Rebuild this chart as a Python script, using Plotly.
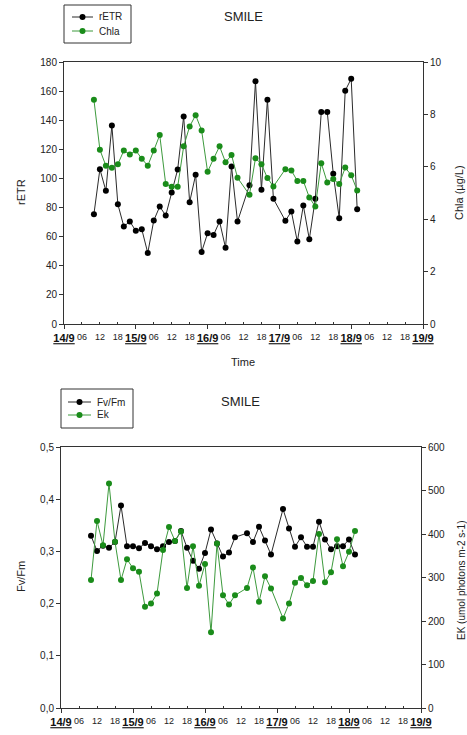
import plotly.graph_objects as go

# ---------------- data ----------------
# sampling time, hours after 14/9 00:00
hours = [10, 12, 14, 16, 18, 20, 22, 24, 26, 28, 30, 32, 34, 36, 38, 40, 42, 44, 46, 48,
         50, 52, 54, 56, 58, 62, 64, 66, 68, 70, 74, 76, 78, 80, 82, 84, 86, 88, 90, 92,
         94, 96, 98]

retr = [75.4, 106.4, 91.5, 136.4, 82.3, 67.0, 70.4, 64.0, 65.1, 48.8, 71.1, 80.7, 74.5,
        90.3, 106.2, 142.6, 83.7, 102.5, 49.5, 62.4, 61.2, 70.4, 52.3, 108.2, 70.4, 95.4,
        166.7, 92.2, 154.1, 86.0, 70.9, 77.3, 56.6, 81.4, 58.2, 86.0, 145.6, 145.6, 103.2,
        72.7, 160.3, 168.5, 78.9]

chla = [8.56, 6.65, 6.04, 5.96, 6.10, 6.62, 6.47, 6.62, 6.31, 6.04, 6.62, 7.21, 5.34,
        5.24, 5.24, 6.78, 7.54, 7.97, 7.39, 5.81, 6.31, 6.78, 6.17, 6.45, 5.58, 4.93,
        6.33, 6.10, 5.57, 5.25, 5.91, 5.86, 5.46, 5.46, 4.83, 4.48, 6.14, 5.40, 5.53,
        5.34, 5.97, 5.68, 5.10]

fvfm = [0.330, 0.301, 0.311, 0.307, 0.318, 0.388, 0.310, 0.310, 0.306, 0.316, 0.310,
        0.304, 0.310, 0.318, 0.320, 0.339, 0.307, 0.282, 0.267, 0.297, 0.342, 0.315,
        0.290, 0.298, 0.327, 0.335, 0.318, 0.347, 0.321, 0.294, 0.381, 0.344, 0.309,
        0.327, 0.309, 0.309, 0.357, 0.323, 0.304, 0.310, 0.310, 0.323, 0.294]

ek = [294, 430, 374, 516, 382, 294, 342, 321, 313, 233, 240, 263, 363, 416, 384, 406,
      276, 372, 281, 331, 174, 378, 259, 238, 259, 276, 323, 244, 303, 275, 206, 240,
      288, 299, 282, 292, 400, 289, 312, 388, 326, 359, 407]

day_ticks = [0, 24, 48, 72, 96, 120]
day_labels = ["14/9", "15/9", "16/9", "17/9", "18/9", "19/9"]
hour_ticks = [d + h for d in [0, 24, 48, 72, 96] for h in (6, 12, 18)]
hour_labels = ["06", "12", "18"] * 5

fv_ticks = [0, 0.1, 0.2, 0.3, 0.4, 0.5]
fv_labels = ["0,0", "0,1", "0,2", "0,3", "0,4", "0,5"]

top_series = ["rETR", "Chla"]
bottom_series = ["Fv/Fm", "Ek"]

# ---------------- styling ----------------
W, H = 467, 735
FONT = "Arial, Liberation Sans, sans-serif"
AX = "#333333"
GREEN = "#1a8c1a"
GREEN_LINE = "#3d9a3d"
BLACK_LINE = "#2b2b2b"


def fx(x):
    return x / W


def fy(y):
    return 1 - y / H


fig = go.Figure()

fig.add_trace(go.Scatter(x=hours, y=retr, name=top_series[0], mode="lines+markers",
                         line=dict(color=BLACK_LINE, width=1),
                         marker=dict(color="black", size=6),
                         xaxis="x", yaxis="y"))
fig.add_trace(go.Scatter(x=hours, y=chla, name=top_series[1], mode="lines+markers",
                         line=dict(color=GREEN_LINE, width=1),
                         marker=dict(color=GREEN, size=6),
                         xaxis="x", yaxis="y2"))
fig.add_trace(go.Scatter(x=hours, y=fvfm, name=bottom_series[0], mode="lines+markers",
                         line=dict(color=BLACK_LINE, width=1),
                         marker=dict(color="black", size=6),
                         xaxis="x3", yaxis="y3"))
fig.add_trace(go.Scatter(x=hours, y=ek, name=bottom_series[1], mode="lines+markers",
                         line=dict(color=GREEN_LINE, width=1),
                         marker=dict(color=GREEN, size=6),
                         xaxis="x3", yaxis="y4"))
# helper traces so the hour-label overlay axes get drawn
fig.add_trace(go.Scatter(x=[None], y=[None], xaxis="x2", yaxis="y",
                         showlegend=False, hoverinfo="skip"))
fig.add_trace(go.Scatter(x=[None], y=[None], xaxis="x4", yaxis="y3",
                         showlegend=False, hoverinfo="skip"))

top_dom_x = [fx(64), fx(423)]
top_dom_y = [fy(324), fy(62)]
bot_dom_x = [fx(61), fx(421)]
bot_dom_y = [fy(708), fy(447)]

day_text = ['<b><u>%s</u></b>' % d for d in day_labels]

common_x = dict(range=[0, 120], showline=True, linecolor=AX, linewidth=1,
                showgrid=False, zeroline=False, ticks="outside", ticklen=4,
                tickcolor=AX, tickmode="array", tickvals=day_ticks, ticktext=day_text,
                automargin=False,
                tickfont=dict(family=FONT, size=11, color="#111"))
hour_x = dict(range=[0, 120], showline=False, showgrid=False, zeroline=False,
              ticks="inside", ticklen=2, tickcolor=AX, tickmode="array",
              tickvals=hour_ticks, ticktext=hour_labels, side="bottom",
              ticklabelstandoff=6, automargin=False,
              tickfont=dict(family=FONT, size=9, color="#222"))
yfont = dict(family=FONT, size=10, color="#222")
ycommon = dict(showline=True, linecolor=AX, linewidth=1, showgrid=False, zeroline=False,
               ticks="outside", ticklen=4, tickcolor=AX, tickfont=yfont, automargin=False)

fig.update_layout(
    width=W, height=H, autosize=False, margin=dict(l=0, r=0, t=0, b=0, pad=0),
    paper_bgcolor="white", plot_bgcolor="white",
    font=dict(family=FONT, color="#222"),
    showlegend=False,
    xaxis=dict(domain=top_dom_x, anchor="y", mirror=True, **common_x),
    xaxis2=dict(overlaying="x", anchor="y", **hour_x),
    yaxis=dict(domain=top_dom_y, anchor="x", range=[0, 180], dtick=20, **ycommon),
    yaxis2=dict(overlaying="y", side="right", anchor="x", range=[0, 10], dtick=2, **ycommon),
    xaxis3=dict(domain=bot_dom_x, anchor="y3", mirror=True, **common_x),
    xaxis4=dict(overlaying="x3", anchor="y3", **hour_x),
    yaxis3=dict(domain=bot_dom_y, anchor="x3", range=[0, 0.5], tickmode="array",
                tickvals=fv_ticks, ticktext=fv_labels, **ycommon),
    yaxis4=dict(overlaying="y3", side="right", anchor="x3", range=[0, 600], dtick=100,
                **ycommon),
)

annotations = []
shapes = []


def add_text(t, x, y, size, ang=0, xanchor="center"):
    annotations.append(dict(text=t, x=fx(x), y=fy(y), xref="paper", yref="paper",
                            xanchor=xanchor, yanchor="middle",
                            showarrow=False, textangle=ang,
                            font=dict(family=FONT, size=size, color="#222")))


add_text("SMILE", 243, 16, 13)
add_text("SMILE", 240, 401, 13)
add_text("rETR", 21, 192, 11, -90)
add_text("Chla (µg/L)", 459, 193, 11, -90)
add_text("Time", 243, 362, 11)
add_text("Fv/Fm", 21, 577, 11, -90)
add_text("EK (umol photons m-2 s-1)", 461, 580, 10, -90)


# legend boxes (drawn by hand to match the compact original)
def legend_box(x0, y0, x1, y1, names, rows, lx0, lx1, tx):
    shapes.append(dict(type="rect", xref="paper", yref="paper",
                       x0=fx(x0), x1=fx(x1), y0=fy(y0), y1=fy(y1),
                       line=dict(color=AX, width=1), fillcolor="white"))
    cols = [("black", BLACK_LINE), (GREEN, GREEN_LINE)]
    for name, ry, (mc, lc) in zip(names, rows, cols):
        shapes.append(dict(type="line", xref="paper", yref="paper",
                           x0=fx(lx0), x1=fx(lx1), y0=fy(ry), y1=fy(ry),
                           line=dict(color=lc, width=1)))
        cx = (lx0 + lx1) / 2
        shapes.append(dict(type="circle", xref="paper", yref="paper",
                           x0=fx(cx - 3), x1=fx(cx + 3), y0=fy(ry + 3), y1=fy(ry - 3),
                           line=dict(color=mc, width=0), fillcolor=mc))
        add_text(name, tx, ry, 10, 0, "left")


legend_box(64, 5, 131, 43, top_series, [17, 31], 72, 93, 97)
legend_box(61, 389, 133, 428, bottom_series, [402, 415], 68, 91, 95)

fig.update_layout(annotations=annotations, shapes=shapes)

fig.write_html("out.html")
